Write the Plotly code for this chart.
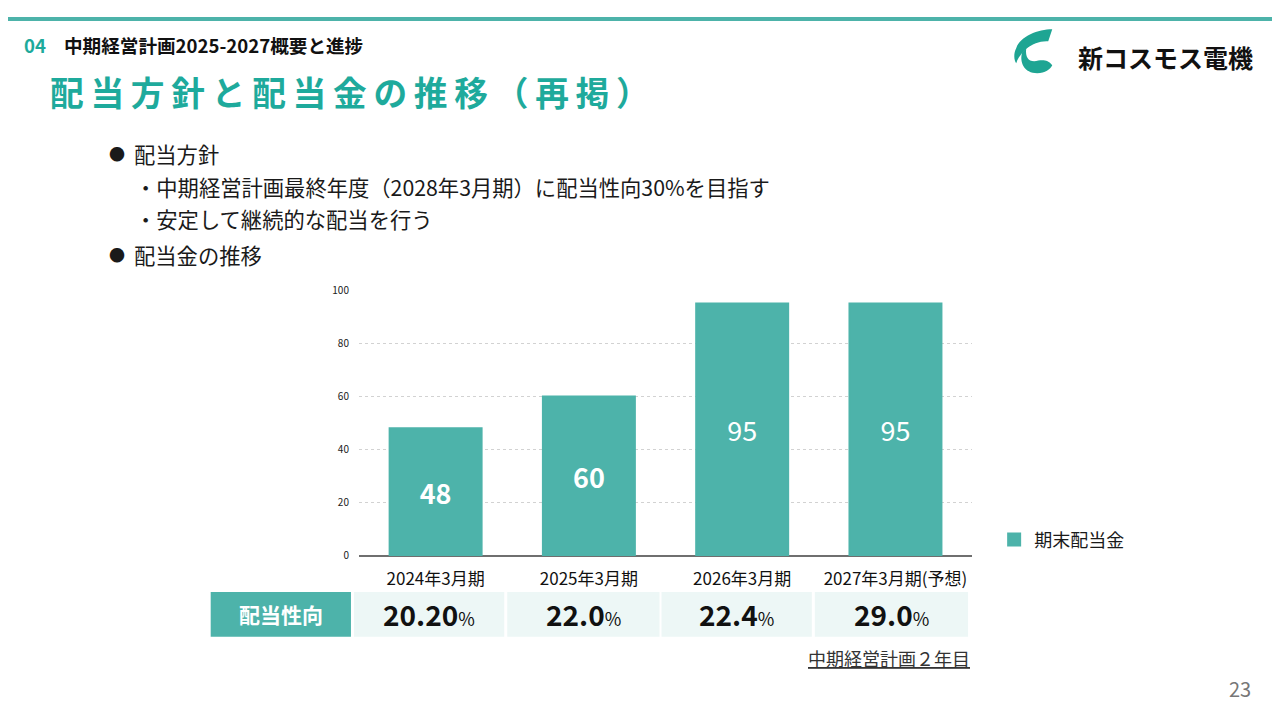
import plotly.graph_objects as go

W, H = 1280, 720
TEAL = "#4DB3AA"
TITLE_TEAL = "#1EAA9C"
FONT = "Noto Sans CJK JP"

categories = ["2024年3月期", "2025年3月期", "2026年3月期", "2027年3月期(予想)"]
dividends = [48, 60, 95, 95]
dividend_labels = ["<b>48</b>", "<b>60</b>", "95", "95"]
payout_ratios = ["20.20", "22.0", "22.4", "29.0"]
y_ticks = [0, 20, 40, 60, 80, 100]


# layout positions below are in slide pixels; these map them onto the
# figure so that the page (shown with the body margin) lines up
def fx(x):
    return (x - 7.9) / 0.9877 - (1.7 + 0.0106 * x)


def fy(y):
    return (y - 7.9) / 0.9877 - (9 - 0.008 * y)


def px(x):
    return fx(x) / W


def py(y):
    return 1 - fy(y) / H


def path(points):
    cmds = []
    for cmd, pts in points:
        coords = " ".join(f"{px(x):.5f},{py(y):.5f}" for x, y in pts)
        cmds.append(f"{cmd} {coords}")
    return " ".join(cmds) + " Z"


fig = go.Figure()
fig.add_trace(
    go.Bar(
        x=categories,
        y=dividends,
        name="期末配当金",
        marker={"color": TEAL, "line": {"color": TEAL, "width": 2}},
        width=0.6,
        text=dividend_labels,
        texttemplate="%{text}",
        textposition="inside",
        insidetextanchor="middle",
        textfont={"family": FONT, "size": 27, "color": "white"},
        showlegend=True,
    )
)

shapes = [
    # top band
    dict(type="rect", xref="paper", yref="paper", x0=0, x1=1, y0=1 - 4 / H, y1=1,
         fillcolor=TEAL, line_width=0, layer="above"),
    # payout header cell
    dict(type="rect", xref="paper", yref="paper", x0=px(212), x1=px(352),
         y0=py(637), y1=py(592), fillcolor=TEAL, line_width=0),
    # logo
    dict(type="path", xref="paper", yref="paper", fillcolor="#1EA593", line_width=0,
         path=path([
             ("M", [(1052, 29)]),
             ("C", [(1038, 29), (1020, 36), (1016, 48)]),
             ("C", [(1013, 54), (1014, 60), (1016, 63)]),
             ("C", [(1020, 52), (1032, 40), (1048, 41)]),
         ])),
    dict(type="path", xref="paper", yref="paper", fillcolor="#1EA593", line_width=0,
         path=path([
             ("M", [(1022, 52)]),
             ("C", [(1019, 62), (1024, 73), (1037, 73)]),
             ("C", [(1045, 73), (1050, 69), (1052, 65)]),
             ("C", [(1047, 58), (1040, 60), (1034, 61)]),
             ("C", [(1028, 61), (1025, 57), (1026, 48)]),
         ])),
]

cells = [(355, 505), (508, 660), (662, 812), (815, 968)]
annotations = []
for (c0, c1), ratio in zip(cells, payout_ratios):
    shapes.append(
        dict(type="rect", xref="paper", yref="paper", x0=px(c0), x1=px(c1),
             y0=py(637), y1=py(592), fillcolor="#EDF7F6", line_width=0)
    )
    annotations.append(
        dict(xref="paper", yref="paper", x=px((c0 + c1) / 2), y=py(614),
             xanchor="center", yanchor="middle", showarrow=False,
             text=f"<span style='font-size:28px'><b>{ratio}</b></span>%",
             font={"family": FONT, "size": 18, "color": "#111111"})
    )


def text(x, y, s, size, color="#1a1a1a", anchor="left", bold=False):
    annotations.append(
        dict(xref="paper", yref="paper", x=px(x), y=py(y), xanchor=anchor,
             yanchor="middle", showarrow=False,
             text=f"<b>{s}</b>" if bold else s,
             font={"family": FONT, "size": size, "color": color})
    )


text(24, 44, "04", 18.6, TITLE_TEAL, bold=True)
text(64, 44, "中期経営計画2025-2027概要と進捗", 18.6, "#111111", bold=True)
text(50, 91, "\u2009".join("配当方針と配当金の推移（再掲）"), 33.7, TITLE_TEAL, bold=True)
text(1076, 57, "新コスモス電機", 25, "#111111", bold=True)
text(108, 153, "●", 16)
text(133, 153, "配当方針", 21.3)
text(134, 186, "・中期経営計画最終年度（2028年3月期）に配当性向30%を目指す", 21.3)
text(134, 218, "・安定して継続的な配当を行う", 21.3)
text(108, 254, "●", 16)
text(133, 254, "配当金の推移", 21.3)
text(282, 614, "配当性向", 21, "white", anchor="center", bold=True)
text(972, 658, "<u>中期経営計画２年目</u>", 18, "#333333", anchor="right")
text(1252, 689, "23", 20, "#777777", anchor="right")

fig.update_layout(
    width=W,
    height=H,
    margin={"l": 0, "r": 0, "t": 0, "b": 0},
    paper_bgcolor="white",
    plot_bgcolor="white",
    font={"family": FONT, "color": "#1a1a1a"},
    shapes=shapes,
    annotations=annotations,
    legend={
        "x": px(994),
        "y": py(540),
        "xanchor": "left",
        "yanchor": "middle",
        "font": {"family": FONT, "size": 18, "color": "#1a1a1a"},
        "bgcolor": "rgba(0,0,0,0)",
    },
    xaxis={
        "domain": [px(360), px(972)],
        "range": [-0.5, 3.5],
        "showgrid": False,
        "showline": False,
        "ticks": "",
        "tickfont": {"family": FONT, "size": 17, "color": "#111111"},
        "ticklabelstandoff": 11,
    },
    yaxis={
        "domain": [py(556), py(290)],
        "range": [0, 100],
        "tickvals": y_ticks,
        "showgrid": True,
        "gridcolor": "#d2d2d2",
        "gridwidth": 1,
        "griddash": "dot",
        "zeroline": True,
        "zerolinecolor": "#6f6f6f",
        "zerolinewidth": 2,
        "tickfont": {"family": FONT, "size": 10, "color": "#222222"},
        "ticklabelstandoff": 9,
    },
)

fig.write_html("out.html")
